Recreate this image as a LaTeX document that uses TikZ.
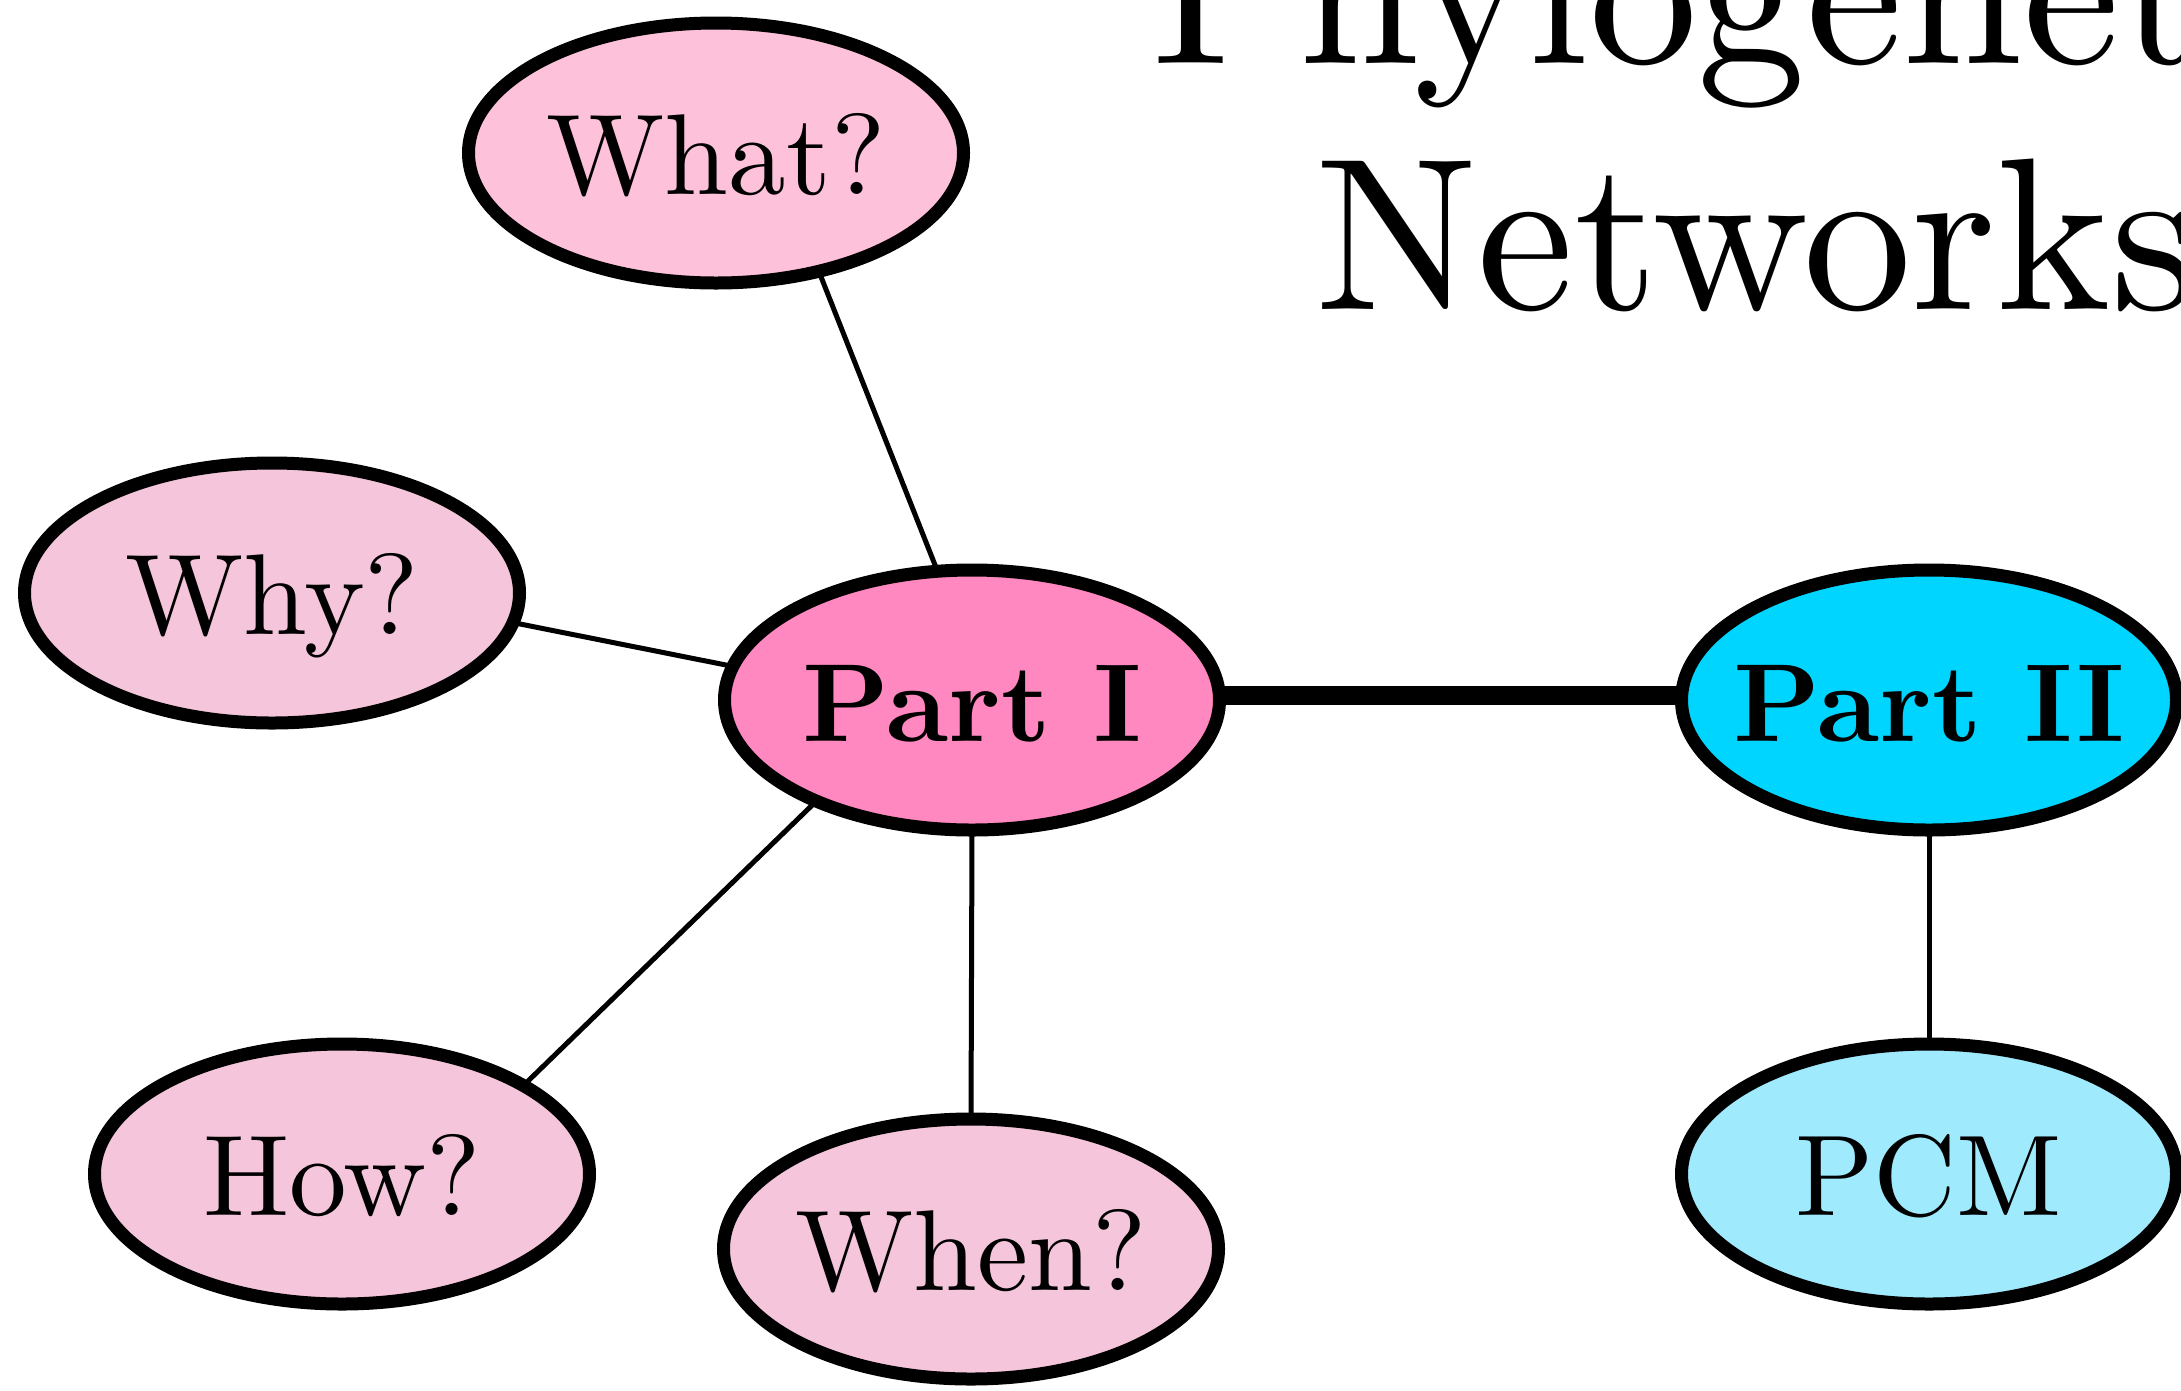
\documentclass[tikz,border=0pt]{standalone}
\usepackage{fontspec}
\setmainfont{lmroman10-regular.otf}[BoldFont=lmroman10-bold.otf]
\usetikzlibrary{shapes.geometric}

\definecolor{pinkq}{RGB}{245,198,219}
\definecolor{pinkwhat}{RGB}{253,194,218}
\definecolor{pinkmain}{RGB}{255,136,192}
\definecolor{cyanmain}{RGB}{0,213,255}
\definecolor{cyanlight}{RGB}{160,234,253}

\tikzset{
  topic/.style={ellipse, draw=black, line width=13pt, inner ysep=0pt, inner xsep=-200pt,
    outer sep=0pt, minimum width=495pt, minimum height=260pt,
    font=\fontsize{115}{130}\selectfont, text height=82pt, text depth=0pt},
  partnode/.style={topic, font=\fontsize{111}{130}\bfseries\selectfont},
  link/.style={line width=5pt},
  mainlink/.style={line width=19pt},
  heading/.style={inner sep=0pt, anchor=base, font=\fontsize{217}{250}\selectfont}
}

\begin{document}
\begin{tikzpicture}[x=1pt, y=-1pt]
  \clip (0,0) rectangle (2181,1390);

  % title
  \node[heading] (title1) at (1756,63) {Phylogenetic};
  \node[heading] (title2) at (1756,309) {Networks};

  % topic ellipses
  \node[topic, fill=pinkwhat] (what) at (716,153) {What?};
  \node[topic, fill=pinkq] (why) at (272,593) {Why?};
  \node[partnode, fill=pinkmain] (p1) at (972,700) {Part I};
  \node[partnode, fill=cyanmain] (p2) at (1929,700) {Part II};
  \node[topic, fill=pinkq] (how) at (342,1174) {How?};
  \node[topic, fill=pinkq] (when) at (971,1249) {When?};
  \node[topic, fill=cyanlight] (pcm) at (1929,1174) {PCM};

  % connectors
  \draw[link] (what.-49) -- (p1.105);
  \draw[link] (why.-7.7) -- (p1.172.9);
  \draw[link] (how.26.2) -- (p1.-147.5);
  \draw[link] (p1.south) -- (when.north);
  \draw[link] (p2.south) -- (pcm.north);
  \draw[mainlink] (p1.1.6) -- (p1.1.6 -| p2.west);
\end{tikzpicture}
\end{document}
